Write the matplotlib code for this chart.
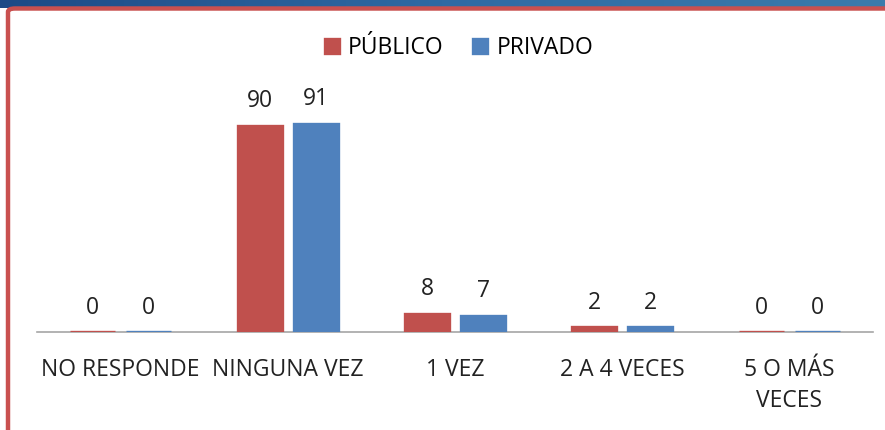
import matplotlib.pyplot as plt
import numpy as np
from matplotlib.patches import FancyBboxPatch
from matplotlib.colors import LinearSegmentedColormap

plt.rcParams['font.family'] = ['Open Sans', 'DejaVu Sans']

categorias = ["NO RESPONDE", "NINGUNA VEZ", "1 VEZ", "2 A 4 VECES", "5 O MÁS\nVECES"]
publico = [0, 90, 8, 2, 0]
privado = [0, 91, 7, 2, 0]
series = ["PÚBLICO", "PRIVADO"]

rojo = "#C0504D"
azul = "#4F81BD"
tam = 16.5

fig = plt.figure(figsize=(8.85, 4.30), dpi=100)
fig.patch.set_facecolor("white")

# banda azul superior con degradado
ax_banda = fig.add_axes([0, 1 - 8 / 430, 1, 8 / 430])
grad = np.linspace(0, 1, 256).reshape(1, -1)
cmap_banda = LinearSegmentedColormap.from_list("banda", ["#1d4a86", "#2f6aa3", "#3b7bab"])
ax_banda.imshow(grad, aspect="auto", cmap=cmap_banda, extent=[0, 1, 0, 1])
ax_banda.set_axis_off()

# marco rojo
marco = FancyBboxPatch((8 / 885, -0.2), 1.2, 1.2 - 8.5 / 430,
                       boxstyle="round,pad=0,rounding_size=0.008",
                       transform=fig.transFigure, facecolor="none",
                       edgecolor="#c9504f", linewidth=3.2, zorder=1)
fig.patches.append(marco)

ax = fig.add_axes([37 / 885, 98 / 430, 836 / 885, 229 / 430])
ax.set_facecolor("none")
ax.set_zorder(2)
x = np.arange(len(categorias))
ancho = 0.265
sep = 0.035

b1 = ax.bar(x - ancho / 2 - sep, publico, ancho, color=rojo, edgecolor=rojo,
            linewidth=2.4, label=series[0], zorder=3)
b2 = ax.bar(x + ancho / 2 + sep, privado, ancho, color=azul, edgecolor=azul,
            linewidth=2.4, label=series[1], zorder=3)

for barras, vals in ((b1, publico), (b2, privado)):
    for b, v in zip(barras, vals):
        ax.annotate(str(v), (b.get_x() + b.get_width() / 2, v),
                    xytext=(0, 9), textcoords="offset points",
                    ha="center", va="bottom", fontsize=tam, color="#222222")

ax.set_xlim(-0.5, len(categorias) - 0.5)
ax.set_ylim(0, 100)
ax.set_xticks(x)
ax.set_xticklabels(categorias, fontsize=tam, color="#222222", linespacing=1.35)
ax.tick_params(axis="x", length=0, pad=19)
ax.set_yticks([])
for lado in ("top", "right", "left"):
    ax.spines[lado].set_visible(False)
ax.spines["bottom"].set_color("#a6a6a6")
ax.spines["bottom"].set_linewidth(1.2)

fig.legend(handles=[b1, b2], labels=series, loc="center",
           bbox_to_anchor=(459 / 885, 1 - 48 / 430), ncol=2, frameon=False,
           fontsize=tam, handlelength=0.6, handleheight=0.6,
           handletextpad=0.4, columnspacing=1.3)

fig.savefig("out.png", dpi=100)
